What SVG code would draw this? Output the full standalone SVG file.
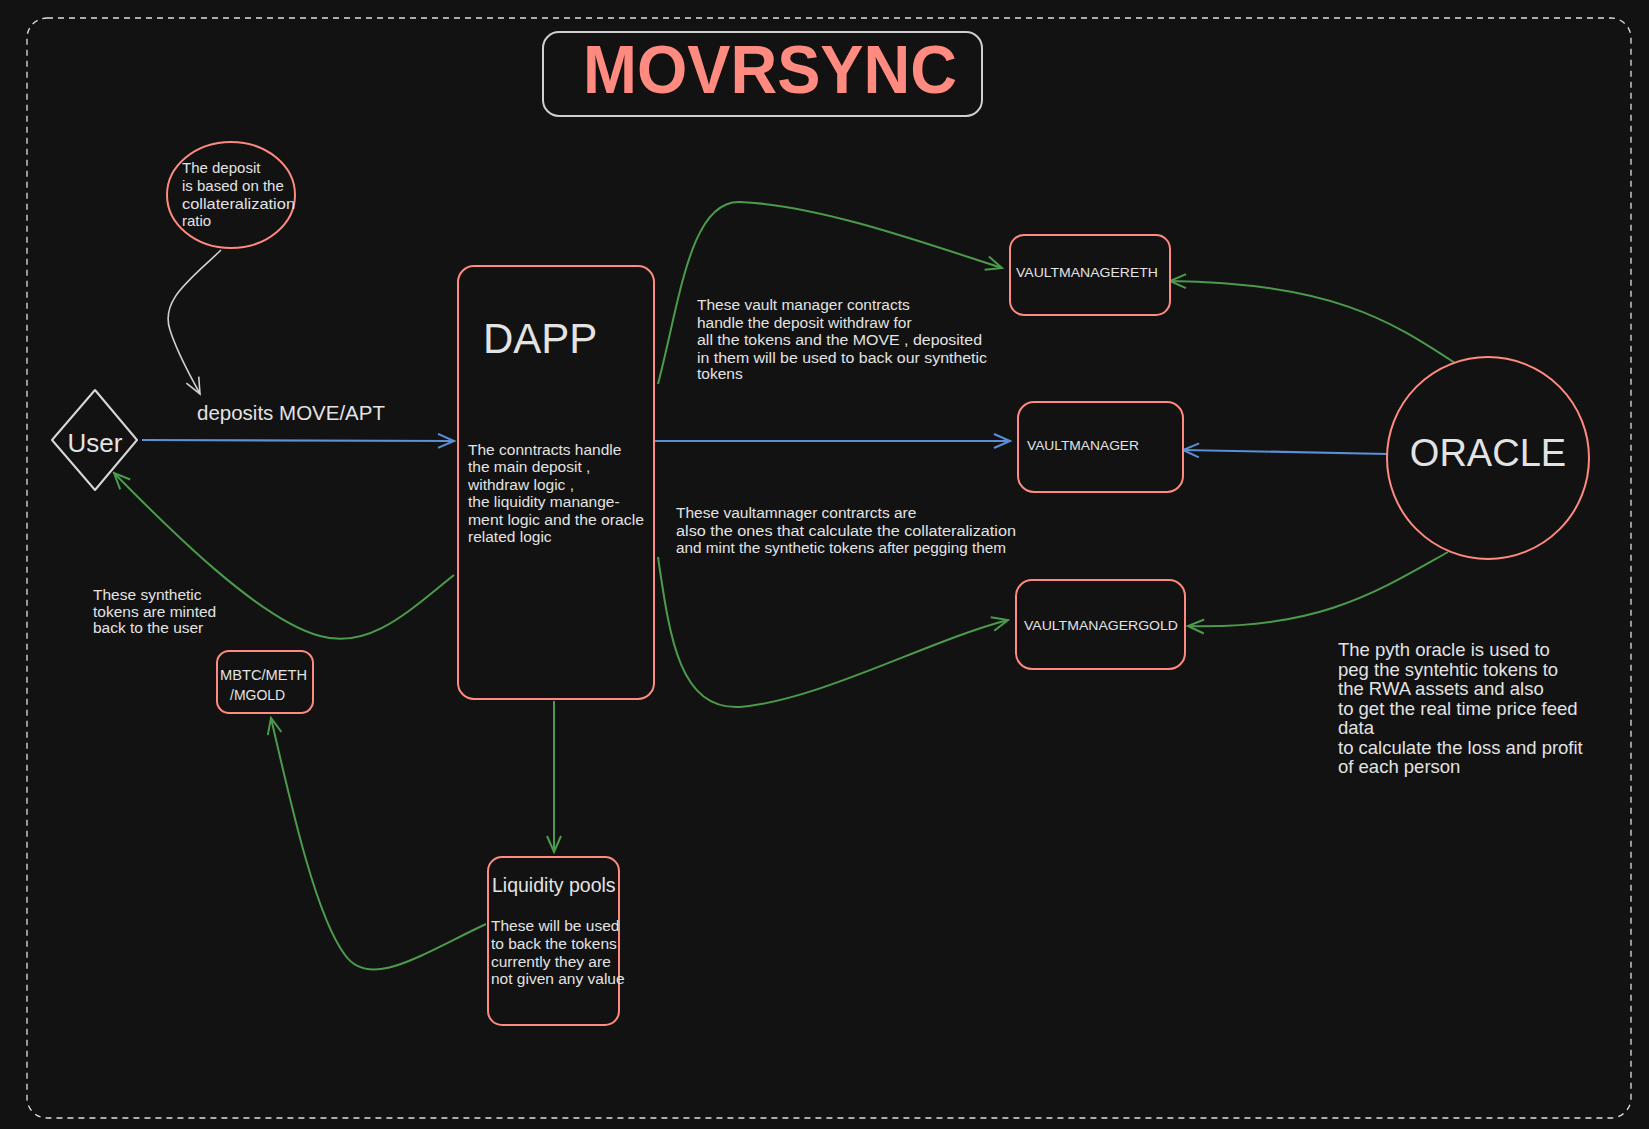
<svg xmlns="http://www.w3.org/2000/svg" width="1649" height="1129" viewBox="0 0 1649 1129">
<defs>
<style>
.t{font-family:"Liberation Sans",Arial,sans-serif;fill:#e3e3e3}
.s14{font-size:15.5px}
.s15{font-size:15px}
.s16{font-size:18.5px}
.cap{font-size:13.5px}
.box{fill:#121212;stroke:#ff8a80;stroke-width:2}
.g{fill:none;stroke:#4c9a4c;stroke-width:2}
.b{fill:none;stroke:#5b8fd6;stroke-width:2.2}
.w{fill:none;stroke:#d0d0d0;stroke-width:1.6}
</style>
<marker id="ag" viewBox="0 0 20 20" refX="18" refY="10" markerWidth="20" markerHeight="20" markerUnits="userSpaceOnUse" orient="auto"><path d="M2,3 L18,10 L2,17" fill="none" stroke="#4c9a4c" stroke-width="2"/></marker>
<marker id="ab" viewBox="0 0 20 20" refX="18" refY="10" markerWidth="20" markerHeight="20" markerUnits="userSpaceOnUse" orient="auto"><path d="M2,3 L18,10 L2,17" fill="none" stroke="#5b8fd6" stroke-width="2"/></marker>
<marker id="aw" viewBox="0 0 20 20" refX="18" refY="10" markerWidth="20" markerHeight="20" markerUnits="userSpaceOnUse" orient="auto"><path d="M2,3 L18,10 L2,17" fill="none" stroke="#d0d0d0" stroke-width="1.6"/></marker>
</defs>
<rect width="1649" height="1129" fill="#121212"/>
<rect x="27" y="18" width="1604" height="1100" rx="20" fill="none" stroke="#e0e0e0" stroke-width="1.3" stroke-dasharray="6 5"/>

<g id="title">
<rect x="543" y="32" width="439" height="84" rx="16" fill="#121212" stroke="#cfcfcf" stroke-width="2"/>
<text x="583" y="93" textLength="374" lengthAdjust="spacingAndGlyphs" style="font-family:'Liberation Sans',Arial,sans-serif;font-size:68px;font-weight:bold;fill:#ff8a80">MOVRSYNC</text>
</g>

<g id="connectors">
<path class="w" d="M221,250 C 190,280 160,300 170,330 C 178,355 190,375 200,394" marker-end="url(#aw)"/>
<path class="b" d="M142,440 L454,441" marker-end="url(#ab)"/>
<path class="g" d="M454,575 C 410,610 370,650 320,636 C 260,620 170,530 114,473" marker-end="url(#ag)"/>
<path class="g" d="M658,384 C 680,300 690,200 740,202 C 820,205 930,245 1002,268" marker-end="url(#ag)"/>
<path class="b" d="M654,441 L1010,441" marker-end="url(#ab)"/>
<path class="g" d="M658,557 C 670,640 680,710 740,707 C 820,700 930,640 1008,620" marker-end="url(#ag)"/>
<path class="g" d="M554,701 L554,852" marker-end="url(#ag)"/>
<path class="g" d="M486,924 C 420,955 370,990 345,955 C 315,915 290,800 271,718" marker-end="url(#ag)"/>
<path class="g" d="M1455,363 C 1390,320 1330,283 1170,281" marker-end="url(#ag)"/>
<path class="b" d="M1388,454 L1183,450" marker-end="url(#ab)"/>
<path class="g" d="M1448,552 C 1380,590 1320,630 1188,626" marker-end="url(#ag)"/>
</g>

<g id="deposit-note">
<ellipse cx="231" cy="195" rx="64" ry="53" fill="none" stroke="#ff8a80" stroke-width="2"/>
<text class="t s15" x="182" y="173">The deposit</text>
<text class="t s15" x="182" y="191">is based on the</text>
<text class="t s15" x="182" y="209" textLength="113" lengthAdjust="spacingAndGlyphs">collateralization</text>
<text class="t s15" x="182" y="226">ratio</text>
</g>

<g id="user">
<path d="M95,390 L137,440 L95,490 L52,440 Z" fill="none" stroke="#d8d8d8" stroke-width="2" stroke-linejoin="round"/>
<text class="t" x="95" y="452" text-anchor="middle" style="font-size:26px">User</text>
</g>

<g id="deposit-label">
<text class="t" x="197" y="420" style="font-size:20.5px">deposits MOVE/APT</text>
</g>

<g id="dapp">
<rect class="box" x="458" y="266" width="196" height="433" rx="16"/>
<text class="t" x="483" y="353" style="font-size:42px">DAPP</text>
<text class="t s14" x="468" y="455">The conntracts handle</text>
<text class="t s14" x="468" y="472">the main deposit ,</text>
<text class="t s14" x="468" y="490">withdraw logic ,</text>
<text class="t s14" x="468" y="507">the liquidity manange-</text>
<text class="t s14" x="468" y="525" textLength="176" lengthAdjust="spacingAndGlyphs">ment logic and the oracle</text>
<text class="t s14" x="468" y="542">related logic</text>
</g>

<g id="vault-note-1">
<text class="t s14" x="697" y="310">These vault manager contracts</text>
<text class="t s14" x="697" y="328">handle the deposit withdraw for</text>
<text class="t s14" x="697" y="345" textLength="285" lengthAdjust="spacingAndGlyphs">all the tokens and the MOVE , deposited</text>
<text class="t s14" x="697" y="363" textLength="290" lengthAdjust="spacingAndGlyphs">in them will be used to back our synthetic</text>
<text class="t s14" x="697" y="379">tokens</text>
</g>

<g id="vault-note-2">
<text class="t s14" x="676" y="518">These vaultamnager contrarcts are</text>
<text class="t s14" x="676" y="536" textLength="340" lengthAdjust="spacingAndGlyphs">also the ones that calculate the collateralization</text>
<text class="t s14" x="676" y="553" textLength="330" lengthAdjust="spacingAndGlyphs">and mint the synthetic tokens after pegging them</text>
</g>

<g id="vaultmanagereth">
<rect class="box" x="1010" y="235" width="160" height="80" rx="14"/>
<text class="t cap" x="1016" y="277" textLength="142" lengthAdjust="spacingAndGlyphs">VAULTMANAGERETH</text>
</g>

<g id="vaultmanager">
<rect class="box" x="1018" y="402" width="165" height="90" rx="16"/>
<text class="t cap" x="1027" y="450" textLength="112" lengthAdjust="spacingAndGlyphs">VAULTMANAGER</text>
</g>

<g id="vaultmanagergold">
<rect class="box" x="1016" y="580" width="169" height="89" rx="16"/>
<text class="t cap" x="1024" y="630" textLength="154" lengthAdjust="spacingAndGlyphs">VAULTMANAGERGOLD</text>
</g>

<g id="oracle">
<circle cx="1488" cy="458" r="101" fill="none" stroke="#ff8a80" stroke-width="2"/>
<text class="t" x="1488" y="466" text-anchor="middle" style="font-size:38px">ORACLE</text>
</g>

<g id="oracle-note">
<text class="t s16" x="1338" y="656">The pyth oracle is used to</text>
<text class="t s16" x="1338" y="676">peg the syntehtic tokens to</text>
<text class="t s16" x="1338" y="695">the RWA assets and also</text>
<text class="t s16" x="1338" y="715">to get the real time price feed</text>
<text class="t s16" x="1338" y="734">data</text>
<text class="t s16" x="1338" y="754">to calculate the loss and profit</text>
<text class="t s16" x="1338" y="773">of each person</text>
</g>

<g id="synthetic-note">
<text class="t s14" x="93" y="600">These synthetic</text>
<text class="t s14" x="93" y="617">tokens are minted</text>
<text class="t s14" x="93" y="633">back to the user</text>
</g>

<g id="mbtc">
<rect class="box" x="217" y="651" width="96" height="62" rx="12"/>
<text class="t" x="220" y="680" textLength="87" lengthAdjust="spacingAndGlyphs" style="font-size:14px">MBTC/METH</text>
<text class="t" x="230" y="700" style="font-size:14px">/MGOLD</text>
</g>

<g id="liquidity">
<rect class="box" x="488" y="857" width="131" height="168" rx="14"/>
<text class="t" x="492" y="892" style="font-size:19.5px">Liquidity pools</text>
<text class="t s14" x="491" y="931">These will be used</text>
<text class="t s14" x="491" y="949">to back the tokens</text>
<text class="t s14" x="491" y="967">currently they are</text>
<text class="t s14" x="491" y="984">not given any value</text>
</g>
</svg>
